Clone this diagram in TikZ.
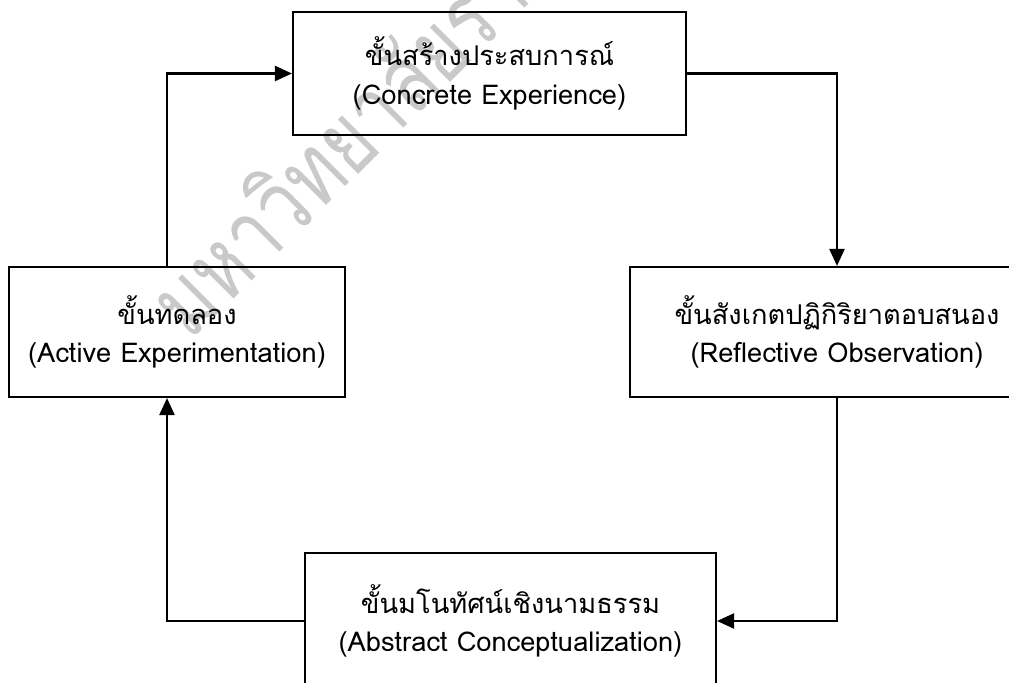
\documentclass[tikz,border=0pt]{standalone}
\usepackage{fontspec}
\setmainfont[Script=Thai]{Loma}
\usetikzlibrary{arrows.meta}

\tikzset{
  stagebox/.style={draw, line width=1.2pt, align=center, inner sep=0pt,
    font=\fontsize{15.5}{22}\selectfont},
  flow/.style={line width=1.3pt, -{Triangle[length=0.34cm,width=0.3cm]}},
  watermark/.style={text=black!21, font=\fontsize{54}{54}\selectfont}
}

\begin{document}
\begin{tikzpicture}
  \path[use as bounding box, clip] (0,0) rectangle (20.18,-13.66);

  \node[watermark, rotate=45, xscale=0.78, anchor=base west] (wmark) at (3.75,-6.9) {มหาวิทยาลัยราชภัฏ};

  \node[stagebox, minimum width=7.86cm, minimum height=2.46cm] (concrete) at (9.79,-1.47)
    {ขั้นสร้างประสบการณ์\\(Concrete Experience)};
  \node[stagebox, minimum width=8.28cm, minimum height=2.60cm] (reflect) at (16.74,-6.64)
    {ขั้นสังเกตปฏิกิริยาตอบสนอง\\(Reflective Observation)};
  \node[stagebox, minimum width=8.22cm, minimum height=2.72cm] (abstract) at (10.21,-12.42)
    {ขั้นมโนทัศน์เชิงนามธรรม\\(Abstract Conceptualization)};
  \node[stagebox, minimum width=6.72cm, minimum height=2.60cm] (active) at (3.54,-6.64)
    {ขั้นทดลอง\\(Active Experimentation)};

  \draw[flow] (concrete.east) -| (reflect.north);
  \draw[flow] (reflect.south) |- (abstract.east);
  \draw[flow] (abstract.west) -| ([xshift=-0.2cm]active.south);
  \draw[flow] ([xshift=-0.2cm]active.north) |- (concrete.west);
\end{tikzpicture}
\end{document}
